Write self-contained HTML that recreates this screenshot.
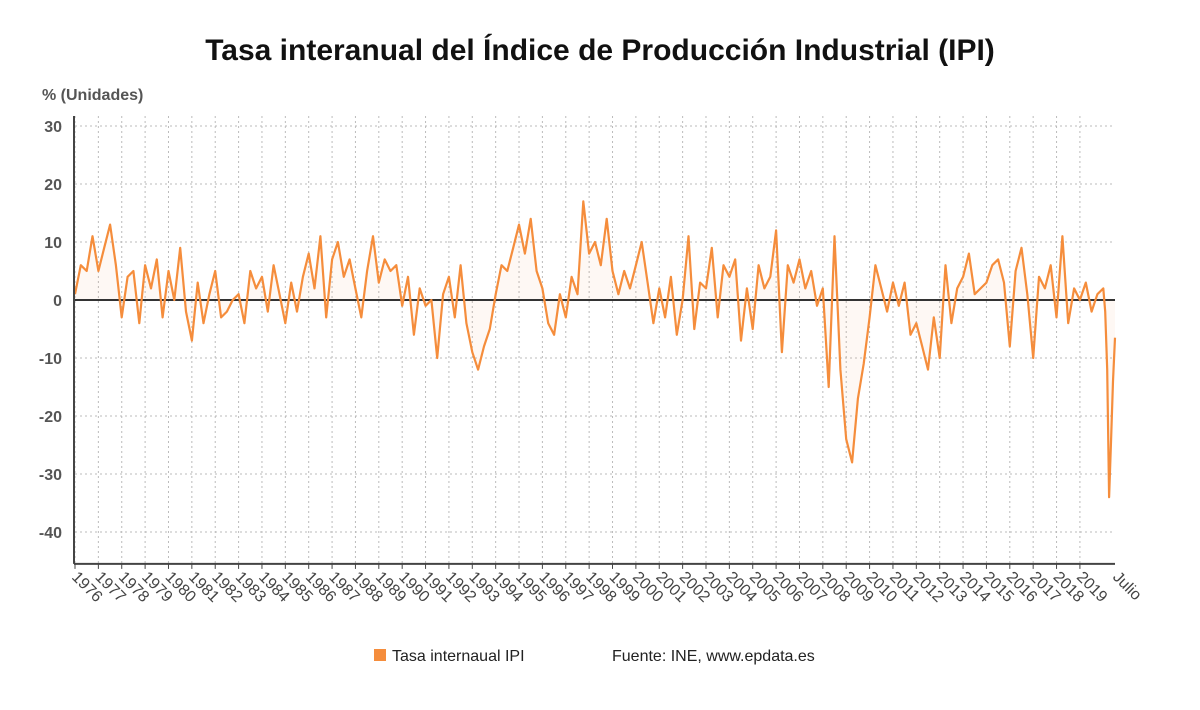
<!DOCTYPE html>
<html><head><meta charset="utf-8"><style>
body{margin:0;background:#fff;width:1200px;height:705px;overflow:hidden;font-family:"Liberation Sans",sans-serif}
</style></head><body>
<svg width="1200" height="705" id="c" font-family="Liberation Sans, sans-serif">
<text x="600" y="60" text-anchor="middle" font-size="30" font-weight="bold" fill="#111">Tasa interanual del Índice de Producción Industrial (IPI)</text>
<text x="42" y="100" font-size="16" font-weight="bold" fill="#555">% (Unidades)</text>
<g id="grid"></g><g id="marks"></g><g id="axes"></g>
<g>
<rect x="374" y="649" width="12" height="12" fill="#f58d3c"/>
<text x="392" y="661" font-size="16" fill="#222">Tasa internaual IPI</text>
<text x="612" y="661" font-size="16" fill="#222">Fuente: INE, www.epdata.es</text>
</g>
</svg>
<script>
const yTicks=[30,20,10,0,-10,-20,-30,-40];
const years=[1976,1977,1978,1979,1980,1981,1982,1983,1984,1985,1986,1987,1988,1989,1990,1991,1992,1993,1994,1995,1996,1997,1998,1999,2000,2001,2002,2003,2004,2005,2006,2007,2008,2009,2010,2011,2012,2013,2014,2015,2016,2017,2018,2019];
const quarterly=[1,6,5,11, 5,9,13,6, -3,4,5,-4, 6,2,7,-3, 5,0,9,-2, -7,3,-4,1, 5,-3,-2,0, 1,-4,5,2, 4,-2,6,1, -4,3,-2,4,
8,2,11,-3, 7,10,4,7, 2,-3,5,11, 3,7,5,6, -1,4,-6,2, -1,0,-10,1, 4,-3,6,-4, -9,-12,-8,-5, 1,6,5,9, 13,8,14,5,
2,-4,-6,1, -3,4,1,17, 8,10,6,14, 5,1,5,2, 6,10,3,-4, 2,-3,4,-6, 0,11,-5,3, 2,9,-3,6, 4,7,-7,2, -5,6,2,4,
12,-9,6,3, 7,2,5,-1, 2,-15,11,-12, -24,-28,-17,-11, -3,6,2,-2, 3,-1,3,-6, -4,-8,-12,-3, -10,6,-4,2, 4,8,1,2, 3,6,7,3,
-8,5,9,1, -10,4,2,6, -3,11,-4,2, 0,3,-2,1];
const monthly2020=[2,-2,-12,-34,-24,-14,-6.5];
const NS='http://www.w3.org/2000/svg';
const X0=75,PX=23.37,Y0=300,PY=5.8;
const x=t=>X0+(t-1976)*PX, y=v=>Y0-v*PY;
function mk(tag,at,par){const e=document.createElementNS(NS,tag);for(const k in at)e.setAttribute(k,at[k]);par.appendChild(e);return e;}
const grid=document.getElementById('grid'),marks=document.getElementById('marks'),axes=document.getElementById('axes');
yTicks.forEach(v=>{
 const l=mk('line',{x1:75,x2:1115,y1:y(v),y2:y(v),stroke:'#bbb','stroke-dasharray':'2,3'},grid);
 
 
 const t=mk('text',{x:62,y:y(v)+6,'text-anchor':'end','font-size':16,'font-weight':'bold',fill:'#555'},axes);
 t.textContent=v;
 
 
});
const bottom=y(-45.5);
years.forEach(yr=>{
 const xx=x(yr);
 const l=mk('line',{x1:xx,x2:xx,y1:116,y2:bottom,stroke:'#bbb','stroke-dasharray':'2,3'},grid);
 
 
 mk('line',{x1:xx,x2:xx,y1:bottom,y2:bottom+5,stroke:'#444'},axes);
 const t=mk('text',{x:xx-4,y:bottom+14,'font-size':16,fill:'#444',transform:`rotate(45 ${xx-4} ${bottom+14})`},axes);
 t.textContent=yr;
 
 
});
const jt=mk('text',{x:1112,y:bottom+14,'font-size':16,fill:'#444',transform:`rotate(45 1112 ${bottom+14})`},axes);
jt.textContent='Julio';


const pts=[];
quarterly.forEach((v,i)=>pts.push([x(1976+i*0.25),y(v)]));
monthly2020.forEach((v,i)=>pts.push([x(2020+i/12),y(v)]));
const d=pts.map((p,i)=>(i?'L':'M')+p[0].toFixed(1)+','+p[1].toFixed(1)).join('');
const area=mk('path',{d:d+`L${pts[pts.length-1][0]},${Y0}L${pts[0][0]},${Y0}Z`,fill:'#f58d3c','fill-opacity':0.06},marks);


const zl=mk('line',{x1:75,x2:1115,y1:Y0,y2:Y0,stroke:'#333','stroke-width':2},marks);


const line=mk('path',{d:d,fill:'none',stroke:'#f58d3c','stroke-width':2.2,'stroke-linejoin':'round'},marks);


const ya=mk('line',{x1:74,x2:74,y1:116,y2:bottom,stroke:'#444','stroke-width':2},axes);


const xa=mk('line',{x1:74,x2:1115,y1:bottom,y2:bottom,stroke:'#444','stroke-width':2},axes);


</script>
</body></html>
